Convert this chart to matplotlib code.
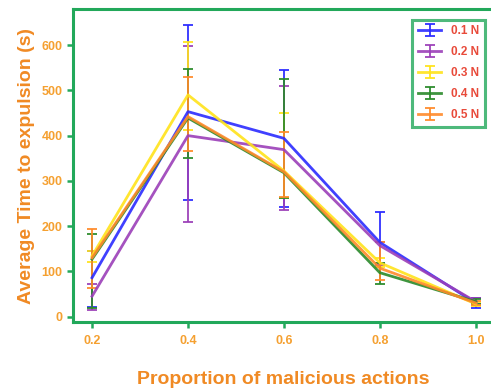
import numpy as np
import matplotlib.pyplot as plt

plt.rcParams['font.family'] = ['Liberation Sans', 'DejaVu Sans']

proportions = [0.2, 0.4, 0.6, 0.8, 1.0]
labels = ['0.1 N', '0.2 N', '0.3 N', '0.4 N', '0.5 N']
colors = ['#2b2bff', '#9b3fb8', '#ffe31a', '#2a8a2a', '#ff8a2a']

# mean expulsion time per force level
mean_01 = [86, 453, 394, 164, 30]
mean_02 = [45, 400, 369, 157, 33]
mean_03 = [134, 490, 322, 119, 28]
mean_04 = [127, 439, 318, 97, 33]
mean_05 = [130, 442, 320, 107, 30]

# lower / upper error
low_01 = [64, 196, 152, 46, 10]
up_01 = [59, 192, 152, 67, 12]
low_02 = [30, 191, 133, 43, 6]
up_02 = [26, 198, 140, 8, 9]
low_03 = [13, 77, 60, 10, 5]
up_03 = [10, 116, 128, 10, 5]
low_04 = [107, 89, 56, 26, 5]
up_04 = [55, 108, 208, 21, 5]
low_05 = [67, 76, 56, 25, 5]
up_05 = [64, 88, 89, 57, 5]

means = [mean_01, mean_02, mean_03, mean_04, mean_05]
lows = [low_01, low_02, low_03, low_04, low_05]
ups = [up_01, up_02, up_03, up_04, up_05]

frame_green = '#22a85a'
tick_orange = '#f5a030'
label_orange = '#f08a24'

fig = plt.figure(figsize=(4.91, 3.89), dpi=100)
ax = fig.add_axes([0.1487, 0.171, 0.855, 0.806])

for m, lo, hi, c, lab in zip(means, lows, ups, colors, labels):
    ax.errorbar(proportions, m, yerr=[lo, hi], color=c, lw=2, elinewidth=1.4,
                capsize=3.5, capthick=1.4, label=lab, alpha=0.9)

ax.set_xlim(0.1603, 1.0355)
ax.set_ylim(-13, 680)
ax.set_xticks(proportions)
ax.set_xticklabels(['0.2', '0.4', '0.6', '0.8', '1.0'])
ax.set_yticks([0, 100, 200, 300, 400, 500, 600])

for s in ax.spines.values():
    s.set_color(frame_green)
    s.set_linewidth(2.2)

ax.tick_params(colors=frame_green, width=1.8, length=4, labelcolor=tick_orange,
               labelsize=9)
for t in ax.get_xticklabels() + ax.get_yticklabels():
    t.set_fontweight('bold')
ax.tick_params(axis='x', pad=5)

ax.set_xlabel('Proportion of malicious actions', color=label_orange,
              fontsize=14, fontweight='bold', labelpad=17)
ax.set_ylabel('Average Time to expulsion (s)', color=label_orange,
              fontsize=14, fontweight='bold', labelpad=5)

leg = ax.legend(loc='upper right', bbox_to_anchor=(0.995, 0.985), fontsize=8.5,
                frameon=True, fancybox=False, handlelength=2.0,
                labelspacing=0.75, borderpad=0.5, handletextpad=0.8)
leg.get_frame().set_edgecolor(frame_green)
leg.get_frame().set_linewidth(2.2)
for t in leg.get_texts():
    t.set_color('#e84a3a')
    t.set_fontweight('bold')

fig.savefig('out.png', dpi=100)
